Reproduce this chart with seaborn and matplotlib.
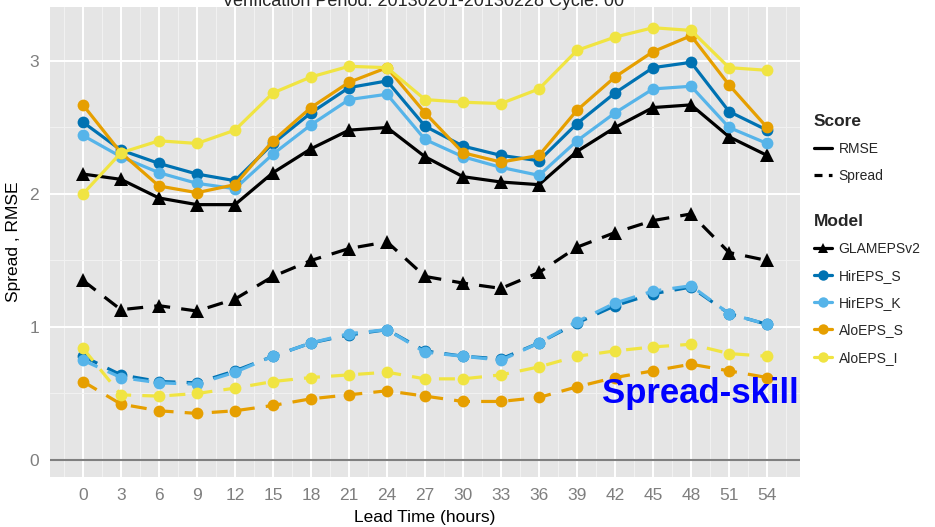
import numpy as np
import pandas as pd
import matplotlib
matplotlib.use("Agg")
import matplotlib.pyplot as plt
from matplotlib.lines import Line2D
import seaborn as sns

lead_time = [0, 3, 6, 9, 12, 15, 18, 21, 24, 27, 30, 33, 36, 39, 42, 45, 48, 51, 54]
models = ["GLAMEPSv2", "HirEPS_S", "HirEPS_K", "AloEPS_S", "AloEPS_I"]
colors = ["#000000", "#0072B2", "#56B4E9", "#E69F00", "#F0E442"]

rmse_glameps = [2.15, 2.11, 1.97, 1.92, 1.92, 2.16, 2.34, 2.48, 2.50, 2.28, 2.13, 2.09, 2.07, 2.32, 2.50, 2.65, 2.67, 2.43, 2.29]
rmse_hir_s = [2.54, 2.33, 2.23, 2.15, 2.10, 2.38, 2.61, 2.80, 2.85, 2.51, 2.36, 2.29, 2.25, 2.53, 2.76, 2.95, 2.99, 2.62, 2.48]
rmse_hir_k = [2.44, 2.28, 2.16, 2.08, 2.04, 2.30, 2.52, 2.71, 2.75, 2.41, 2.28, 2.20, 2.14, 2.40, 2.61, 2.79, 2.81, 2.50, 2.38]
rmse_alo_s = [2.67, 2.31, 2.06, 2.01, 2.07, 2.40, 2.65, 2.84, 2.95, 2.61, 2.31, 2.24, 2.29, 2.63, 2.88, 3.07, 3.19, 2.82, 2.50]
rmse_alo_i = [2.00, 2.31, 2.40, 2.38, 2.48, 2.76, 2.88, 2.96, 2.95, 2.71, 2.69, 2.68, 2.79, 3.08, 3.18, 3.25, 3.23, 2.95, 2.93]

spread_glameps = [1.35, 1.13, 1.16, 1.12, 1.21, 1.38, 1.50, 1.59, 1.64, 1.38, 1.33, 1.29, 1.41, 1.60, 1.71, 1.80, 1.85, 1.56, 1.50]
spread_hir_s = [0.78, 0.64, 0.59, 0.58, 0.67, 0.78, 0.88, 0.94, 0.98, 0.82, 0.78, 0.76, 0.88, 1.03, 1.16, 1.25, 1.30, 1.10, 1.02]
spread_hir_k = [0.75, 0.62, 0.58, 0.57, 0.66, 0.78, 0.88, 0.95, 0.98, 0.81, 0.78, 0.75, 0.88, 1.04, 1.18, 1.27, 1.31, 1.10, 1.02]
spread_alo_s = [0.59, 0.42, 0.37, 0.35, 0.37, 0.41, 0.46, 0.49, 0.52, 0.48, 0.44, 0.44, 0.47, 0.55, 0.62, 0.67, 0.72, 0.67, 0.62]
spread_alo_i = [0.84, 0.49, 0.48, 0.50, 0.54, 0.59, 0.62, 0.64, 0.66, 0.61, 0.61, 0.64, 0.70, 0.78, 0.82, 0.85, 0.87, 0.80, 0.78]

rmse = [rmse_glameps, rmse_hir_s, rmse_hir_k, rmse_alo_s, rmse_alo_i]
spread = [spread_glameps, spread_hir_s, spread_hir_k, spread_alo_s, spread_alo_i]

rows = []
for m, r, s in zip(models, rmse, spread):
    for t, rv, sv in zip(lead_time, r, s):
        rows.append({"Lead": t, "Value": rv, "Model": m, "Score": "RMSE"})
        rows.append({"Lead": t, "Value": sv, "Model": m, "Score": "Spread"})
df = pd.DataFrame(rows)

sns.set_theme(style="darkgrid")
plt.rcParams["font.family"] = ["Liberation Sans", "DejaVu Sans"]

fig = plt.figure(figsize=(9.35, 5.27), dpi=100)
ax = fig.add_axes([50 / 935, 50 / 527, 750 / 935, 470 / 527])
ax.set_facecolor("#E5E5E5")

dash = (5.0, 3.5)
for i, (m, c) in enumerate(zip(models, colors)):
    mk = "^" if m == "GLAMEPSv2" else "o"
    ms = 9.5 if mk == "^" else 8.5
    for score in ["Spread", "RMSE"]:
        sub = df[(df.Model == m) & (df.Score == score)]
        sns.lineplot(data=sub, x="Lead", y="Value", ax=ax, color=c, marker=mk,
                     markersize=ms, markeredgewidth=0, linewidth=2.3,
                     dashes=False, legend=False, zorder=3 + i,
                     linestyle="-" if score == "RMSE" else (0, dash))

ax.axhline(0, color="#7F7F7F", linewidth=1.5, zorder=2)

ax.set_xlim(-2.6, 56.6)
ax.set_ylim(-0.128, 3.406)
ax.set_xticks(lead_time)
ax.set_xticks([t + 1.5 for t in [-3] + lead_time], minor=True)
ax.set_yticks([0, 1, 2, 3])
ax.set_yticks([0.5, 1.5, 2.5], minor=True)
ax.grid(which="major", color="white", linewidth=1.4)
ax.grid(which="minor", color="#F2F2F2", linewidth=0.7)
ax.set_axisbelow(True)
for s in ax.spines.values():
    s.set_visible(False)
ax.tick_params(axis="both", which="major", length=4, width=1, color="#7F7F7F",
               labelcolor="#7F7F7F", labelsize=12.5, pad=4)
ax.tick_params(axis="both", which="minor", length=0)
ax.set_xlabel("Lead Time (hours)", fontsize=12.5, color="black", labelpad=5)
ax.set_ylabel("Spread , RMSE", fontsize=12.5, color="black", labelpad=6)

fig.text(0.452, 1.0 - 1.5 / 527, "Verification Period: 20130201-20130228 Cycle: 00",
         ha="center", va="center", fontsize=13)

ax.text(0.998, 0.178, "Spread-skill", transform=ax.transAxes, ha="right", va="center",
        color="#0000FF", fontsize=25, fontweight="bold", zorder=20)

score_handles = [Line2D([], [], color="black", linewidth=2.3, linestyle="-"),
                 Line2D([], [], color="black", linewidth=2.3, linestyle=(0, (2.5, 2)))]
leg1 = fig.legend(score_handles, ["RMSE", "Spread"], title="Score",
                  loc="upper left", bbox_to_anchor=(808 / 935, 1 - 108 / 527),
                  frameon=False, fontsize=10, handlelength=1.3, handletextpad=0.5,
                  labelspacing=0.95, alignment="left", borderaxespad=0)
leg1.get_title().set_fontweight("bold")
leg1.get_title().set_fontsize(12.5)

model_handles = [Line2D([], [], color=c, linewidth=2.3,
                        marker="^" if m == "GLAMEPSv2" else "o", markersize=7.5,
                        markeredgewidth=0) for m, c in zip(models, colors)]
leg2 = fig.legend(model_handles, models, title="Model",
                  loc="upper left", bbox_to_anchor=(808 / 935, 1 - 208 / 527),
                  frameon=False, fontsize=10, handlelength=1.3, handletextpad=0.5,
                  labelspacing=0.95, alignment="left", borderaxespad=0)
leg2.get_title().set_fontweight("bold")
leg2.get_title().set_fontsize(12.5)

fig.savefig("out.png", dpi=100, facecolor="white")
